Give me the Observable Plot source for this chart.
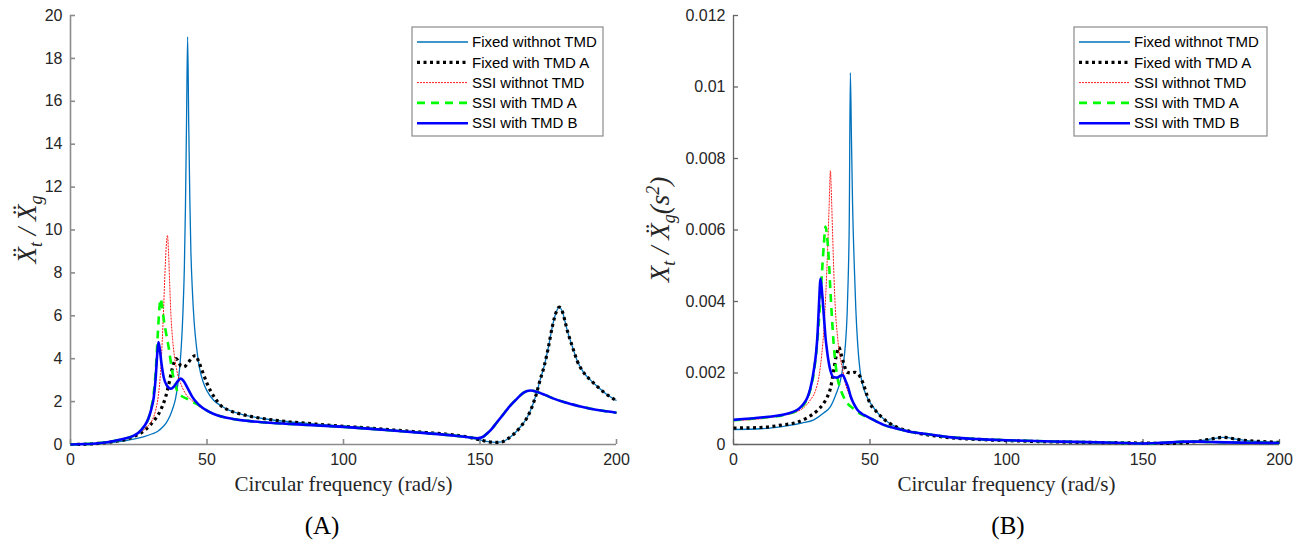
<!DOCTYPE html>
<html><head><meta charset="utf-8">
<script src="https://cdn.jsdelivr.net/npm/d3@7"></script>
<script src="https://cdn.jsdelivr.net/npm/@observablehq/plot@0.6"></script>
<style>
body{margin:0;background:#fff;width:1305px;height:550px;overflow:hidden;position:relative;font-family:"Liberation Sans",Arial,sans-serif}
#wrap{display:flex}
.cap{position:absolute;top:511px;font-family:"Liberation Serif","Times New Roman",serif;font-size:25px;color:#000;transform:translateX(-50%);line-height:30px}
</style></head><body>
<div id="wrap"><div id="a"></div><div id="b"></div></div>
<div class="cap" style="left:322px">(A)</div>
<div class="cap" style="left:1008px">(B)</div>
<script>
// ---------- labels ----------
const seriesNames = ["Fixed withnot TMD", "Fixed with TMD A", "SSI withnot TMD", "SSI with TMD A", "SSI with TMD B"];
const xTicks = [0, 50, 100, 150, 200];
const xTickLabels = ["0", "50", "100", "150", "200"];
const yTicksA = [0, 2, 4, 6, 8, 10, 12, 14, 16, 18, 20];
const yTickLabelsA = ["0", "2", "4", "6", "8", "10", "12", "14", "16", "18", "20"];
const yTicksB = [0, 0.002, 0.004, 0.006, 0.008, 0.01, 0.012];
const yTickLabelsB = ["0", "0.002", "0.004", "0.006", "0.008", "0.01", "0.012"];
const xTitle = "Circular frequency (rad/s)";

// ---------- panel A: acceleration ratio ----------
const A_fixedHead = [[0,0],[5,0.01],[10,0.04],[15,0.09],[20,0.17],[24,0.27],[27,0.37],[30,0.5],[32,0.62],[33.5,0.78],[35,1.0],[36.5,1.35],[37.5,1.7],[38.5,2.15],[39.3,2.8],[40,3.6],[40.6,4.6],[41.2,6.2],[41.7,8.2],[42.1,11],[42.5,15],[42.9,19.0],[43.3,15],[43.7,11.5],[44.1,9],[44.6,7.3],[45.3,5.7],[46.2,4.5],[47.2,3.6],[48.5,2.95],[50,2.5],[52.5,2.05]];
const A_tmdAHead = [[0,0],[5,0.01],[10,0.05],[15,0.12],[20,0.24],[24,0.42],[27,0.64],[29,0.88],[31,1.18],[33,1.6],[34.8,2.2],[36,2.8],[37,3.4],[38,3.85],[38.7,4.0],[39.5,3.88],[40.5,3.65],[41.5,3.62],[43,3.8],[44.5,4.05],[45.8,4.15],[47,3.85],[48.2,3.45],[50,2.85],[51.5,2.45],[53,2.15]];
const A_fixedTail = [[55,1.82],[58,1.6],[62,1.43],[66,1.31],[71,1.2],[80,1.06],[90,0.95],[100,0.85],[110,0.76],[120,0.66],[130,0.56],[140,0.45],[145,0.36],[150,0.22],[153,0.13],[156,0.1],[158,0.12],[160,0.25],[162.5,0.5],[165,0.85],[167,1.2],[168.5,1.58],[170.5,2.3],[172,3.0],[173.5,3.65],[175,4.5],[176.5,5.5],[178,6.2],[179,6.4],[180,6.25],[182,5.3],[184,4.5],[185.6,3.9],[188,3.35],[190.5,3.0],[193,2.7],[195.4,2.44],[198,2.2],[200,2.05]];
const A_ssiHead = [[0,0],[5,0.01],[10,0.05],[15,0.13],[20,0.27],[23,0.4],[26,0.6],[28.5,0.88],[30,1.15],[31.2,1.6],[32.2,2.3],[33,3.4],[33.6,4.8],[34.1,6.3],[34.6,8.0],[35.1,9.3],[35.5,9.75],[35.9,9.0],[36.3,7.6],[36.8,6.0],[37.4,4.9],[38.2,4.0],[39.2,3.3],[40.5,2.8],[42,2.4],[44.5,2.05],[47,1.78]];
const A_ssiAHead = [[0,0],[5,0.02],[10,0.06],[15,0.14],[20,0.28],[23,0.4],[25,0.56],[27,0.85],[28.5,1.2],[29.6,1.7],[30.5,2.4],[31.3,3.6],[32,5.2],[32.6,6.4],[33,6.8],[33.5,6.5],[34.2,5.8],[35,5.2],[36,4.5],[37.2,3.45],[38.2,2.85],[39.1,2.5],[40.5,2.28],[42.7,2.13],[44.5,2.0],[46.4,1.88],[48,1.75]];
const A_ssiBHead = [[0,0],[5,0.02],[10,0.06],[15,0.14],[20,0.28],[23,0.4],[25,0.56],[27,0.85],[28.5,1.2],[29.6,1.65],[30.5,2.2],[31.2,3.1],[31.7,4.1],[32.2,4.78],[32.7,4.45],[33.3,3.8],[34.2,3.1],[35.3,2.75],[36.8,2.6],[38,2.72],[39.3,2.95],[40.4,3.07],[41.5,2.95],[43,2.6],[44.6,2.22],[46.5,1.92],[48,1.75]];
const A_ssiTail = [[50,1.58],[52.5,1.42],[56,1.28],[60,1.18],[65,1.1],[70,1.04],[80,0.96],[90,0.89],[100,0.82],[110,0.73],[120,0.63],[130,0.53],[140,0.42],[145,0.35],[149,0.29],[151,0.35],[152.5,0.5],[154,0.68],[156,1.0],[158.5,1.4],[161,1.8],[163.5,2.13],[166,2.42],[168.5,2.52],[171,2.45],[174,2.3],[177,2.14],[181,1.97],[186,1.8],[190.5,1.67],[195,1.57],[200,1.48]];

// ---------- panel B: displacement ratio ----------
const B_fixedHead = [[0,0.00042],[10,0.00044],[20,0.00053],[25,0.0006],[29.4,0.00069],[33,0.00088],[35.5,0.00106],[37.5,0.0014],[39.2,0.0018],[40.3,0.0023],[41,0.0028],[41.6,0.0036],[42,0.0046],[42.4,0.0062],[42.8,0.0104],[43.2,0.0086],[43.6,0.0068],[44.2,0.0051],[44.8,0.0038],[45.5,0.0028],[46.3,0.0021],[47.2,0.0017],[48.5,0.0014],[50.5,0.00112]];
const B_tmdAHead = [[0,0.00046],[11,0.00048],[18,0.00055],[23.3,0.00062],[27,0.00075],[30.7,0.00095],[33,0.00115],[34.3,0.00132],[35.6,0.0016],[36.7,0.00207],[37.7,0.0025],[38.6,0.00272],[39.5,0.0025],[40.4,0.00226],[41.6,0.00202],[43,0.002],[44.5,0.00202],[45.5,0.00198],[46.5,0.00188],[47.5,0.0017],[48.4,0.0015],[49.3,0.00128],[50.2,0.00112],[52,0.00095]];
const B_fixedTail = [[53.8,0.0008],[57,0.0006],[60,0.00048],[64,0.00038],[68.5,0.0003],[74,0.00024],[78,0.0002],[85,0.00016],[100,0.00011],[120,0.00007],[140,0.00005],[150,0.00004],[158,0.00003],[165,0.00005],[170,0.00009],[174,0.00014],[177,0.00018],[179,0.0002],[181,0.00019],[184,0.00015],[188,0.00011],[194,0.00008],[200,0.00006]];
const B_ssiHead = [[0,0.00067],[10,0.00072],[18,0.00082],[23.3,0.00092],[26,0.00105],[28.2,0.00125],[30,0.0015],[31.3,0.0019],[32.3,0.0025],[33.1,0.0032],[33.8,0.0042],[34.5,0.0055],[35,0.0066],[35.5,0.00766],[35.9,0.0069],[36.3,0.0059],[36.8,0.0047],[37.3,0.0038],[38,0.0031],[38.9,0.0025],[39.8,0.00216],[41,0.0017],[42.5,0.00138],[44,0.00112],[46,0.0009],[48,0.0008]];
const B_ssiAHead = [[0,0.00068],[11,0.00075],[19.7,0.00085],[24.5,0.00102],[27.6,0.0014],[29.4,0.002],[30.6,0.0028],[31.6,0.0038],[32.4,0.0048],[33.1,0.0056],[33.7,0.0061],[34.3,0.0058],[34.9,0.0052],[35.5,0.0043],[36.1,0.0035],[36.7,0.0028],[37.3,0.0023],[38,0.0019],[39.2,0.00155],[40.4,0.00132],[42,0.00113],[44,0.001],[46,0.00088],[48,0.0008]];
const B_ssiBHead = [[0,0.00069],[11,0.00076],[19.7,0.00086],[24.5,0.00104],[27.6,0.00142],[29.4,0.00207],[30.3,0.0026],[30.8,0.0031],[31.3,0.0039],[31.9,0.00464],[32.5,0.0042],[33.1,0.0036],[33.7,0.003],[34.3,0.0026],[35.5,0.00207],[36.7,0.00188],[38,0.00187],[39.3,0.00193],[40,0.00194],[41,0.00179],[42,0.0016],[42.9,0.00135],[44,0.00115],[45.3,0.00098],[47,0.00086],[48.5,0.0008]];
const B_ssiTail = [[50,0.00074],[55,0.00055],[60,0.00044],[65,0.00035],[70,0.0003],[80,0.0002],[90,0.00015],[100,0.00012],[120,0.00008],[140,0.00005],[150,0.00003],[155,0.00004],[160,0.00006],[165,0.00008],[170,0.00008],[175,0.00007],[180,0.00006],[190,0.00005],[200,0.00004]];

// ---------- styles ----------
const styles = [
  {color: "#0072BD", width: 1.3, dash: null},
  {color: "#000000", width: 3.2, dash: "3,3.5"},
  {color: "#FF0000", width: 0.9, dash: "2,1"},
  {color: "#00FF00", width: 2.6, dash: "8,6"},
  {color: "#0000FF", width: 2.6, dash: null}
];

function makePanel(cfg) {
  const height = 500, mt = 15, mb = 56;
  const fw = cfg.width - cfg.ml - cfg.mr, fh = height - mt - mb;
  const xl = new Map(xTicks.map((d, i) => [d, xTickLabels[i]]));
  const yl = new Map(cfg.yTicks.map((d, i) => [d, cfg.yTickLabels[i]]));
  const marks = [
    Plot.ruleY([0], {stroke: cfg.axisColor, strokeWidth: cfg.axisWidth}),
    Plot.ruleX([0], {stroke: cfg.axisColor, strokeWidth: cfg.axisWidth}),
    Plot.ruleY(cfg.yTicks, {stroke: cfg.axisColor, strokeWidth: cfg.axisWidth, insetRight: fw - 5}),
    Plot.ruleX(xTicks, {stroke: cfg.axisColor, strokeWidth: cfg.axisWidth, insetTop: fh - 5}),
    Plot.axisX(xTicks, {tickSize: 0, tickPadding: 9, tickFormat: d => xl.get(d), label: null, fontSize: 16, fill: "#262626"}),
    Plot.axisY(cfg.yTicks, {tickSize: 0, tickPadding: 8, tickFormat: d => yl.get(d), label: null, fontSize: 16, fill: "#262626"}),
    Plot.text([xTitle], {text: d => d, frameAnchor: "bottom", dy: 46, fontFamily: "Liberation Serif, Times New Roman, serif", fontSize: 21, fill: "#262626"})
  ];
  cfg.series.forEach((pts, i) => {
    const s = styles[i];
    marks.push(Plot.line(pts, {x: d => d[0], y: d => d[1], stroke: s.color, strokeWidth: s.width, strokeDasharray: s.dash, curve: "monotone-x", strokeLinecap: "butt", strokeLinejoin: "round"}));
  });
  const svg = Plot.plot({
    width: cfg.width, height, marginLeft: cfg.ml, marginRight: cfg.mr, marginTop: mt, marginBottom: mb,
    x: {domain: [0, 200]}, y: {domain: cfg.yDomain},
    style: {fontFamily: "Liberation Sans, Arial, sans-serif", fontSize: "16px", background: "white", overflow: "visible"},
    marks
  });
  const root = d3.select(svg);
  // legend
  const lg = root.append("g").attr("transform", `translate(${cfg.legendX},27)`).attr("text-anchor", "start");
  lg.append("rect").attr("width", cfg.legendW).attr("height", 109).attr("fill", "white").attr("stroke", "#8a8a8a").attr("stroke-width", 1.2);
  seriesNames.forEach((name, i) => {
    const s = styles[i];
    const y = 15 + i * 20.3;
    lg.append("line").attr("x1", 5).attr("x2", 56).attr("y1", y).attr("y2", y)
      .attr("stroke", s.color).attr("stroke-width", s.width).attr("stroke-dasharray", s.dash);
    lg.append("text").attr("x", 60).attr("y", y).attr("dy", "0.35em").attr("font-size", 15)
      .attr("text-anchor", "start")
      .attr("font-family", "Liberation Sans, Arial, sans-serif").attr("fill", "#000").text(name);
  });
  // y label
  const t = root.append("text").attr("transform", `translate(${cfg.ylabX},${mt + fh / 2}) rotate(-90)`)
    .attr("text-anchor", "middle").attr("font-family", "Liberation Serif, DejaVu Serif, serif")
    .attr("font-style", "italic").attr("font-size", 27).attr("fill", "#262626");
  cfg.ylabParts.forEach(p => {
    const ts = t.append("tspan").text(p.t);
    if (p.sub) ts.attr("font-size", 18).attr("dy", 6);
    if (p.sup) ts.attr("font-size", 18).attr("dy", -10);
    if (p.back) ts.attr("dy", p.back);
  });
  return svg;
}

document.getElementById("a").append(makePanel({
  width: 652, ml: 70, mr: 36, yDomain: [0, 20], yTicks: yTicksA, yTickLabels: yTickLabelsA,
  axisColor: "#8c8c8c", axisWidth: 1.6, legendX: 412, legendW: 191, ylabX: 36,
  series: [A_fixedHead.concat(A_fixedTail), A_tmdAHead.concat(A_fixedTail), A_ssiHead.concat(A_ssiTail), A_ssiAHead.concat(A_ssiTail), A_ssiBHead.concat(A_ssiTail)],
  ylabParts: [{t: "\u1E8C"}, {t: "t", sub: true}, {t: " / ", back: -6}, {t: "\u1E8C"}, {t: "g", sub: true}]
}));
document.getElementById("b").append(makePanel({
  width: 653, ml: 81, mr: 26, yDomain: [0, 0.012], yTicks: yTicksB, yTickLabels: yTickLabelsB,
  axisColor: "#666666", axisWidth: 1.3, legendX: 422, legendW: 193, ylabX: 17,
  series: [B_fixedHead.concat(B_fixedTail), B_tmdAHead.concat(B_fixedTail), B_ssiHead.concat(B_ssiTail), B_ssiAHead.concat(B_ssiTail), B_ssiBHead.concat(B_ssiTail)],
  ylabParts: [{t: "X"}, {t: "t", sub: true}, {t: " / ", back: -6}, {t: "\u1E8C"}, {t: "g", sub: true}, {t: "(s", back: -6}, {t: "2", sup: true}, {t: ")", back: 10}]
}));
</script></body></html>
